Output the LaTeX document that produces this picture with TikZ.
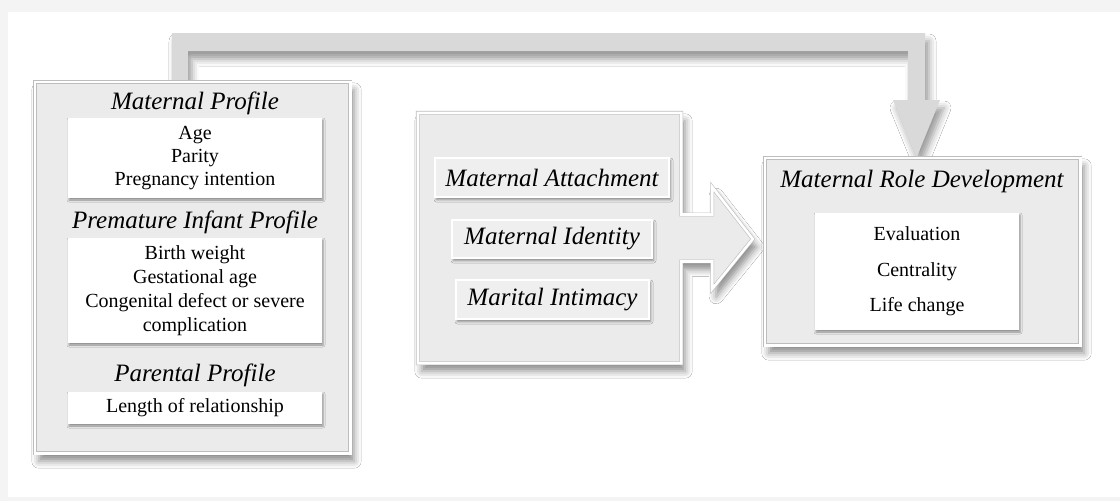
\documentclass[tikz,border=0pt]{standalone}
\usepackage{fontspec}
\setmainfont{Liberation Serif}
\usetikzlibrary{shadows.blur,calc}
\definecolor{boxfill}{HTML}{EBEBEB}
\definecolor{arrowfill}{HTML}{D9D9D9}
\definecolor{labfill}{HTML}{EFEFEF}
\definecolor{edgecol}{HTML}{BDBDBD}
\definecolor{margin}{HTML}{F4F4F4}
\tikzset{
  bigbox/.style={draw=edgecol, line width=0.6pt, double=white, double distance=2.6pt,
    fill=boxfill, blur shadow={shadow xshift=4pt, shadow yshift=-8pt, shadow blur radius=7pt, shadow opacity=45}},
  frame/.style={inner sep=0pt, rectangle},
  whitebox/.style={fill=white, inner sep=0pt, align=center, font=\fontsize{20}{23}\selectfont,
    blur shadow={shadow xshift=1pt, shadow yshift=-2pt, shadow blur radius=2pt, shadow opacity=40}},
  labbox/.style={fill=labfill, draw=gray!30, line width=0.4pt, double=white, double distance=1.8pt,
    inner sep=0pt, font=\fontsize{25}{28}\selectfont\itshape,
    blur shadow={shadow xshift=1.5pt, shadow yshift=-2.5pt, shadow blur radius=2.5pt, shadow opacity=45}},
  title/.style={inner sep=0pt, font=\fontsize{25}{28}\selectfont\itshape},
  toparrow/.style={fill=arrowfill, blur shadow={shadow xshift=4pt, shadow yshift=-8pt, shadow blur radius=7pt, shadow opacity=40}},
}
\begin{document}
\begin{tikzpicture}[x=1pt, y=-1pt]
\useasboundingbox (0,0) rectangle (1120,501);
\fill[margin] (0,0) rectangle (1120,501);
\fill[white] (8,12) rectangle (1120,497);

% named frames (positions)
\node[frame, minimum width=315pt, minimum height=371pt] (L) at (192.5,267.5) {};
\node[frame, minimum width=263pt, minimum height=250pt] (M) at (549.5,238) {};
\node[frame, minimum width=315pt, minimum height=187pt] (R) at (922.5,251.5) {};

% top connector L -> R
\path[toparrow] ([xshift=137pt]L.north west) -- (172,33) -- (925,33) -- (925,100) -- (940,100)
  -- ([xshift=-6pt]R.north) -- (893,100) -- (908,100) -- (908,51) -- (188,51)
  -- ([xshift=153pt]L.north west) -- cycle;

% left box
\path[bigbox] (L.north west) rectangle (L.south east);
\node[title] (t1) at (195,103) {Maternal Profile};
\node[whitebox, minimum width=254pt, minimum height=80pt] (w1) at (195,158) {Age\\Parity\\Pregnancy intention};
\node[title] (t2) at (195,222) {Premature Infant Profile};
\node[whitebox, minimum width=254pt, minimum height=105pt, font=\fontsize{20}{24}\selectfont] (w2) at (195,290.5)
  {Birth weight\\Gestational age\\Congenital defect or severe\\complication};
\node[title] (t3) at (195,375) {Parental Profile};
\node[whitebox, minimum width=254pt, minimum height=32pt] (w3) at (195,408) {Length of relationship};

% middle box merged with block arrow M -> R
\path[bigbox] (M.north west) -- (M.north east) -- ($(M.east)+(0,-23.5)$) -- ($(M.east)+(31,-23.5)$)
  -- ($(M.east)+(31,-51)$) -- ($(R.west)+(-12,-12.5)$) -- ($(M.east)+(31,51)$) -- ($(M.east)+(31,23.5)$)
  -- ($(M.east)+(0,23.5)$) -- (M.south east) -- (M.south west) -- cycle;
\node[labbox, minimum width=234pt, minimum height=39pt] (a1) at (552,177.5) {Maternal Attachment};
\node[labbox, minimum width=200pt, minimum height=38pt] (a2) at (552,239) {Maternal Identity};
\node[labbox, minimum width=193pt, minimum height=39pt] (a3) at (552.5,299.5) {Marital Intimacy};

% right box
\path[bigbox] (R.north west) rectangle (R.south east);
\node[title] (t4) at (922,181) {Maternal Role Development};
\node[whitebox, minimum width=204pt, minimum height=117pt, font=\fontsize{20}{35.5}\selectfont] (w4) at (917,271.5)
  {Evaluation\\Centrality\\Life change};
\end{tikzpicture}
\end{document}
